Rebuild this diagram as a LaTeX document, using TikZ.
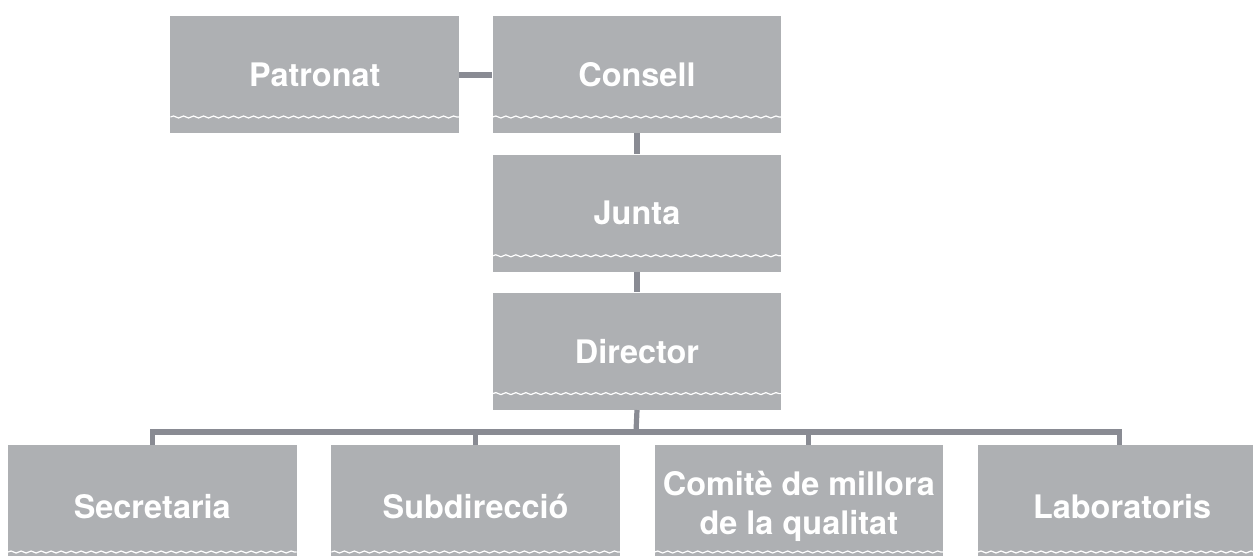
\documentclass[tikz,border=0pt]{standalone}
\usepackage{fontspec}
\setmainfont{TeX Gyre Heros}
\usetikzlibrary{positioning,
                decorations.pathmorphing}
\definecolor{boxgray}{HTML}{AEB0B3}
\definecolor{linkgray}{HTML}{898B93}
\tikzset{wave/.style =
   {draw=white,
    line width=0.6pt,
    decorate,
    decoration={snake,
                segment length=5pt,
                amplitude=0.5pt}}}
\tikzset{unit/.style =
   {rectangle,
    fill=boxgray,
    text=white,
    align=center,
    inner sep=0pt,
    minimum width=144.25pt,
    minimum height=58.5pt,
    font=\fontsize{16.2}{19.5}\selectfont\bfseries,
    path picture={
      \draw[wave] ([yshift=8pt]path picture bounding box.south west)
               -- ([yshift=8pt]path picture bounding box.south east);}}}
\tikzset{lower/.style =
   {unit,
    minimum height=61.5pt}}
\tikzset{link/.style = {draw=linkgray, line width=2.6pt}}

\begin{document}
\begin{tikzpicture}[x=0.5pt, y=-0.5pt]
    \clip (0,0) rectangle (1253,556);

    \node [unit] (consell) at (637,74.5) {Consell};

    \node [unit,
           node distance = 16.5pt,
           left = of consell] (patronat) {Patronat};

    \node [unit,
           node distance = 10.5pt,
           below = of consell] (junta) {Junta};

    \node [unit,
           node distance = 10pt,
           below = of junta] (director) {Director};

    \node [lower] (secretaria) at (152.25,506.5) {Secretaria};

    \node [lower,
           node distance = 17pt,
           right = of secretaria] (subdireccio) {Subdirecció};

    \node [lower,
           node distance = 17pt,
           right = of subdireccio] (comite) {Comitè de millora\\de la qualitat};

    \node [lower,
           node distance = 17pt,
           right = of comite] (laboratoris) {Laboratoris};

    \coordinate (bus) at (636,432);

    \draw [link] (patronat.east |- 0,75) -- (consell.west |- 0,75);
    \draw [link] (consell.south) -- (junta.north);
    \draw [link] (junta.south) -- (director.north);
    \draw [link] (director.south) -- (bus);
    \draw [link] (secretaria.north) |- (bus) -| ([xshift=-1.5pt]laboratoris.north);
    \draw [link] (subdireccio.north) -- (subdireccio.north |- bus);
    \draw [link] ([xshift=5pt]comite.north) -- ([xshift=5pt]comite.north |- bus);

\end{tikzpicture}
\end{document}
